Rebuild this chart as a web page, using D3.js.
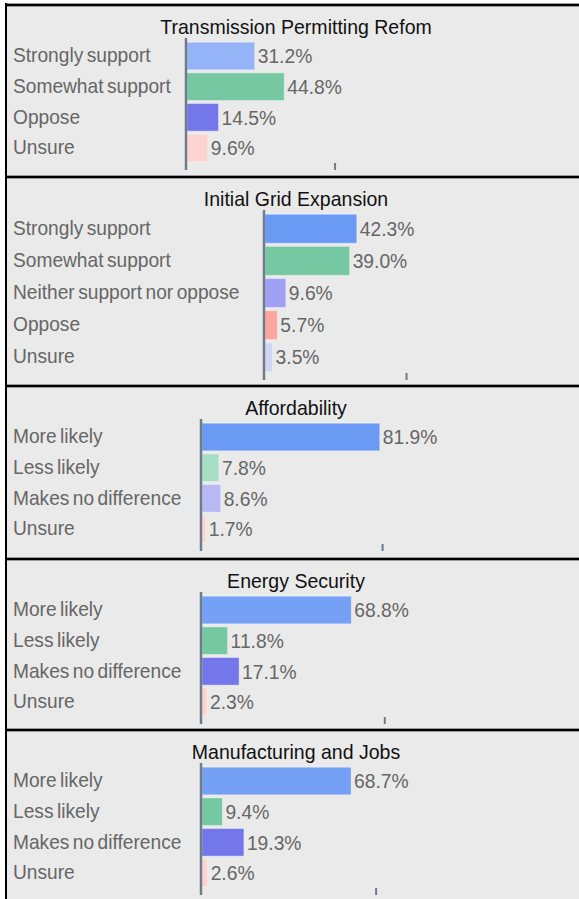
<!DOCTYPE html>
<html>
<head>
<meta charset="utf-8">
<script src="https://cdn.jsdelivr.net/npm/d3@7"></script>
<style>
  html, body { margin: 0; padding: 0; background: #ffffff; }
  svg { display: block; }
  text { font-family: "Liberation Sans", Arial, sans-serif; }
</style>
</head>
<body>
<svg id="chart" width="579" height="899"></svg>
<script>
// ---- survey results (percent of respondents) ----
const titles = [
  "Transmission Permitting Refom",
  "Initial Grid Expansion",
  "Affordability",
  "Energy Security",
  "Manufacturing and Jobs"
];
const permittingLabels = ["Strongly support", "Somewhat support", "Oppose", "Unsure"];
const permittingValues = [31.2, 44.8, 14.5, 9.6];
const expansionLabels = ["Strongly support", "Somewhat support", "Neither support nor oppose", "Oppose", "Unsure"];
const expansionValues = [42.3, 39.0, 9.6, 5.7, 3.5];
const likelihoodLabels = ["More likely", "Less likely", "Makes no difference", "Unsure"];
const affordabilityValues = [81.9, 7.8, 8.6, 1.7];
const securityValues = [68.8, 11.8, 17.1, 2.3];
const jobsValues = [68.7, 9.4, 19.3, 2.6];
// single unlabeled tick on each panel's value axis (percent)
const axisTicks = [68, 65, 83, 84, 80];

// ---- styling ----
const palettes = [
  ["#95b3f7", "#76c8a2", "#7377ea", "#fdd3cf"],
  ["#6b9af5", "#76c8a2", "#a0a0f5", "#fca69e", "#d0d6f0"],
  ["#6b9af5", "#a6dfc4", "#b8b8f5", "#fdd3cf"],
  ["#74a0f5", "#76c8a2", "#7377ea", "#fdd3cf"],
  ["#74a0f5", "#76c8a2", "#7377ea", "#fdd3cf"]
];
const panelTops = [5, 177, 386, 559, 730];
const axisLeft = [186, 264, 201, 201, 201];
const rowStep = [30.5, 32, 30.5, 30.5, 30.5];
const pxPerPercent = 2.17;

const panelLabels = [permittingLabels, expansionLabels, likelihoodLabels, likelihoodLabels, likelihoodLabels];
const panelValues = [permittingValues, expansionValues, affordabilityValues, securityValues, jobsValues];

const W = 579, H = 899;
const svg = d3.select("#chart");

// panel background
svg.append("rect").attr("x", 7).attr("y", 5).attr("width", W - 7).attr("height", H - 5)
  .attr("fill", "#eaeaea");

function scaledText(g, x, y, str, sx) {
  return g.append("text")
    .attr("transform", `translate(${x},${y}) scale(${sx},1)`)
    .attr("dominant-baseline", "central")
    .text(str);
}

panelValues.forEach((values, i) => {
  const labels = panelLabels[i];
  const top = panelTops[i];
  const g = svg.append("g");
  const x0 = axisLeft[i];

  const x = d3.scaleLinear().domain([0, 100]).range([x0 + 1, x0 + 1 + 100 * pxPerPercent]);
  const bandTop = top + 36;
  const y = d3.scaleBand().domain(labels)
    .range([bandTop, bandTop + rowStep[i] * labels.length])
    .paddingInner(0.1).paddingOuter(0.04);

  // title
  scaledText(g, 296, top + 22, titles[i], 0.93)
    .attr("text-anchor", "middle")
    .attr("font-size", 21)
    .attr("fill", "#111");

  // category labels
  labels.forEach(l => {
    scaledText(g, 13, y(l) + y.bandwidth() / 2 - 1, l, 0.935)
      .attr("font-size", 20.5)
      .attr("fill", "#666")
      .attr("word-spacing", -2);
  });

  // bars
  g.selectAll("rect.bar").data(values).join("rect")
    .attr("class", "bar")
    .attr("x", x(0))
    .attr("y", (d, j) => y(labels[j]))
    .attr("width", d => x(d) - x(0))
    .attr("height", y.bandwidth())
    .attr("fill", (d, j) => palettes[i][j])
    .attr("stroke", "rgba(255,255,255,0.35)")
    .attr("stroke-width", 1);

  // value labels
  values.forEach((v, j) => {
    scaledText(g, x(v) + 3, y(labels[j]) + y.bandwidth() / 2, d3.format(".1f")(v) + "%", 0.94)
      .attr("font-size", 20.5)
      .attr("fill", "#666");
  });

  // value axis: baseline plus one tick mark
  const axisBottom = y.range()[1] + 7;
  const axis = d3.axisBottom(x).tickValues([axisTicks[i]]).tickFormat("").tickSize(-7).tickSizeOuter(0);
  const ag = g.append("g").attr("transform", `translate(0,${axisBottom})`).call(axis);
  ag.select(".domain").remove();
  ag.selectAll(".tick line").attr("stroke", "#6f7c8a").attr("stroke-width", 2);

  g.append("line")
    .attr("x1", x0).attr("x2", x0)
    .attr("y1", bandTop - 3).attr("y2", axisBottom)
    .attr("stroke", "#6f7c8a").attr("stroke-width", 2.5);

  // panel separator above
  g.append("rect").attr("x", 6).attr("y", top - 2).attr("width", W).attr("height", 4).attr("fill", "#9a9a9a");
  g.append("rect").attr("x", 6).attr("y", top - 1).attr("width", W).attr("height", 2).attr("fill", "#000");
});

// left frame edge
svg.append("rect").attr("x", 5).attr("y", 3).attr("width", 2).attr("height", H).attr("fill", "#000");
</script>
</body>
</html>
